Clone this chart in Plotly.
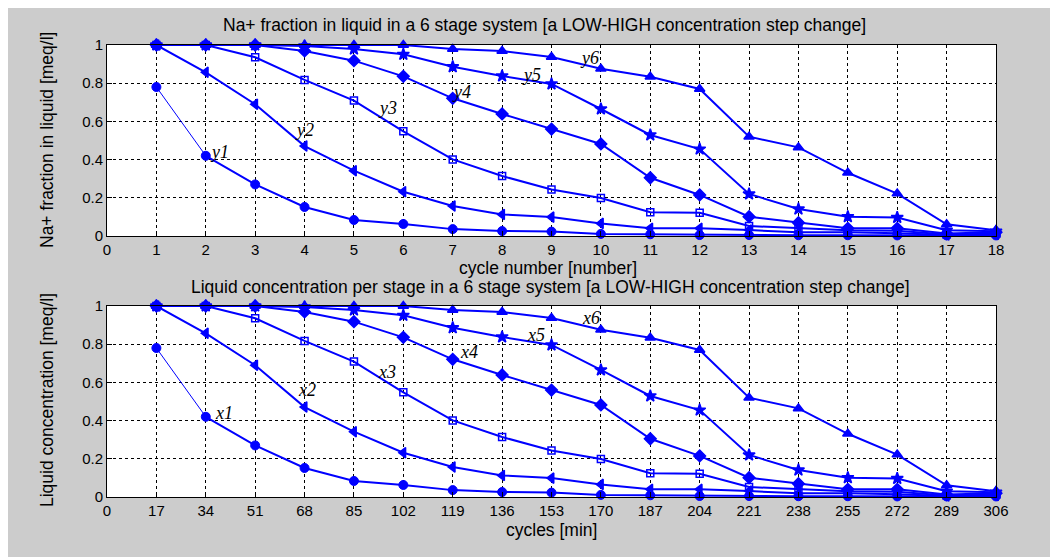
import plotly.graph_objects as go

cycles = list(range(1, 19))
minutes = [c * 17 for c in cycles]

s1 = [0.78, 0.42, 0.27, 0.152, 0.084, 0.063, 0.036, 0.026, 0.023, 0.011, 0.009, 0.005, 0.005, 0.004, 0.004, 0.003, 0.003, 0.003]
s2 = [1.0, 0.857, 0.69, 0.471, 0.342, 0.232, 0.157, 0.113, 0.099, 0.066, 0.040, 0.040, 0.031, 0.02, 0.02, 0.015, 0.005, 0.008]
s3 = [1.0, 1.0, 0.936, 0.817, 0.709, 0.548, 0.401, 0.314, 0.244, 0.199, 0.124, 0.122, 0.052, 0.04, 0.03, 0.028, 0.008, 0.012]
s4 = [1.0, 1.0, 1.0, 0.969, 0.918, 0.836, 0.721, 0.639, 0.56, 0.482, 0.305, 0.215, 0.101, 0.07, 0.04, 0.04, 0.013, 0.02]
s5 = [1.0, 1.0, 1.0, 0.995, 0.979, 0.951, 0.886, 0.838, 0.796, 0.665, 0.529, 0.455, 0.22, 0.141, 0.101, 0.097, 0.03, 0.025]
s6 = [1.0, 1.0, 1.0, 1.0, 1.0, 1.0, 0.979, 0.969, 0.937, 0.876, 0.834, 0.77, 0.52, 0.464, 0.331, 0.222, 0.061, 0.03]
series = [s1, s2, s3, s4, s5, s6]
symbols = ["circle", "triangle-left", "square-open", "diamond", "star", "triangle-up"]

top_labels = ["y1", "y2", "y3", "y4", "y5", "y6"]
top_label_pos = [(2.27, 0.44), (3.99, 0.555), (5.67, 0.67), (7.17, 0.754), (8.6, 0.843), (9.76, 0.93)]
bot_labels = ["x1", "x2", "x3", "x4", "x5", "x6"]
bot_label_pos = [(40.3, 0.44), (68.8, 0.56), (96.4, 0.654), (124.6, 0.759), (147.7, 0.848), (166.6, 0.937)]

top_ticks = list(range(0, 19))
bot_ticks = [0] + minutes
y_ticks = [0, 0.2, 0.4, 0.6, 0.8, 1]
y_tick_text = ["0", "0.2", "0.4", "0.6", "0.8", "1"]

W, H = 1058, 557
OFF = 8  # page offset of the figure inside the browser window
BLUE = "#0000ff"

fig = go.Figure()

def add_series(xs, xa, ya):
    for i, s in enumerate(series):
        if i == 0:
            # thin first segment
            fig.add_trace(go.Scatter(x=xs[0:2], y=s[0:2], mode="lines",
                                     line=dict(color=BLUE, width=1), xaxis=xa, yaxis=ya,
                                     showlegend=False, cliponaxis=False))
            fig.add_trace(go.Scatter(x=xs[1:], y=s[1:], mode="lines",
                                     line=dict(color=BLUE, width=2), xaxis=xa, yaxis=ya,
                                     showlegend=False, cliponaxis=False))
            fig.add_trace(go.Scatter(x=xs, y=s, mode="markers",
                                     marker=dict(symbol=symbols[i], size=9, color=BLUE,
                                                 line=dict(color=BLUE, width=1)),
                                     xaxis=xa, yaxis=ya, showlegend=False, cliponaxis=False))
        else:
            fig.add_trace(go.Scatter(x=xs, y=s, mode="lines+markers",
                                     line=dict(color=BLUE, width=2),
                                     marker=dict(symbol=symbols[i], size=9 if symbols[i] != "square-open" else 7,
                                                 color=BLUE, line=dict(color=BLUE, width=1.5)),
                                     xaxis=xa, yaxis=ya, showlegend=False, cliponaxis=False))

add_series(cycles, "x", "y")
add_series(minutes, "x2", "y2")

def fx(p):
    return (p - OFF) / W

def fy(p):
    return 1 - (p - OFF) / H

xdom = [fx(107), fx(996)]
ydom_top = [fy(236), fy(45)]
ydom_bot = [fy(497), fy(306)]

tickfont = dict(family="Liberation Sans, Arial, sans-serif", size=15, color="black")
common_axis = dict(showline=True, linecolor="black", linewidth=1, mirror=True,
                   ticks="inside", ticklen=5, tickcolor="black", tickfont=tickfont,
                   showgrid=True, gridcolor="black", gridwidth=1, griddash="dot",
                   zeroline=False, fixedrange=True, automargin=False)

fig.update_layout(
    width=W, height=H, autosize=False,
    margin=dict(l=0, r=0, t=0, b=0, pad=0),
    paper_bgcolor="#cccccc", plot_bgcolor="white",
    xaxis=dict(domain=xdom, anchor="y", range=[0, 18], tickvals=top_ticks, **common_axis),
    yaxis=dict(domain=ydom_top, anchor="x", range=[0, 1], tickvals=y_ticks, ticktext=y_tick_text, **common_axis),
    xaxis2=dict(domain=xdom, anchor="y2", range=[0, 306], tickvals=bot_ticks, **common_axis),
    yaxis2=dict(domain=ydom_bot, anchor="x2", range=[0, 1], tickvals=y_ticks, ticktext=y_tick_text, **common_axis),
    showlegend=False,
)

textfont = dict(family="Liberation Sans, Arial, sans-serif", size=17.5, color="black")
labfont = dict(family="Liberation Serif, Times New Roman, serif", size=18, color="black")

ann = []
for t, (x, y) in zip(top_labels, top_label_pos):
    ann.append(dict(x=x, y=y, xref="x", yref="y", text="<i>" + t + "</i>", showarrow=False, font=labfont))
for t, (x, y) in zip(bot_labels, bot_label_pos):
    ann.append(dict(x=x, y=y, xref="x2", yref="y2", text="<i>" + t + "</i>", showarrow=False, font=labfont))

for text, (xp, yp), ang in [
    ("Na+ fraction in liquid in a 6 stage system [a LOW-HIGH concentration step change]", (544, 25), 0),
    ("cycle number [number]", (548, 268), 0),
    ("Liquid concentration per stage in a 6 stage system [a LOW-HIGH concentration step change]", (550, 287), 0),
    ("cycles [min]", (551, 530), 0),
    ("Na+ fraction in liquid [meq/l]", (47, 140), -90),
    ("Liquid concentration [meq/l]", (47, 400), -90),
]:
    ann.append(dict(x=fx(xp), y=fy(yp), xref="paper", yref="paper", text=text, showarrow=False,
                    font=textfont, textangle=ang, xanchor="center", yanchor="middle"))

fig.update_layout(annotations=ann)

fig.write_html("out.html")
